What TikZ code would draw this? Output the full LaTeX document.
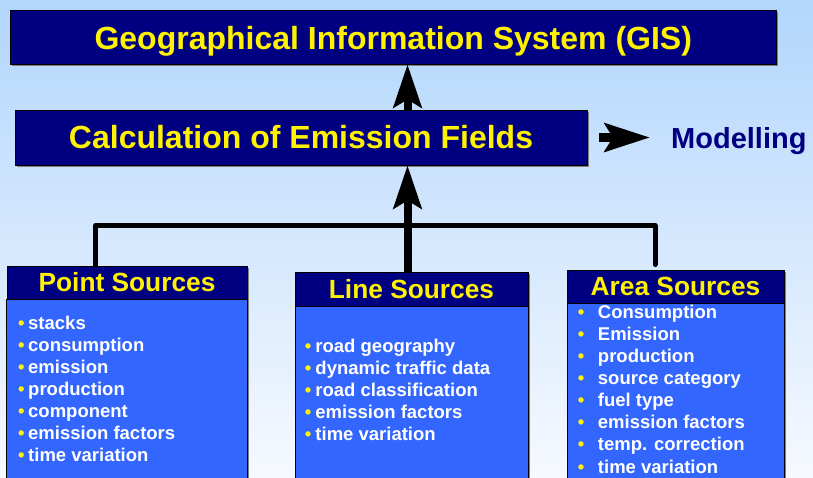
\documentclass[tikz,border=0pt]{standalone}
\usepackage{fontspec}
\setmainfont{Liberation Sans}
\usetikzlibrary{arrows.meta,shadows}
\definecolor{navybox}{RGB}{0,0,128}
\definecolor{bodyblue}{RGB}{51,102,255}
\definecolor{skytop}{RGB}{178,214,252}
\definecolor{skybottom}{RGB}{246,249,255}
\newcommand{\bul}{\textcolor{yellow}{•}}

\begin{document}
\begin{tikzpicture}[x=1pt,y=-1pt,
  boxshadow/.style={drop shadow={shadow xshift=1.5pt,shadow yshift=-1.5pt,fill=black!50,opacity=1}},
  titlebox/.style={draw=black,line width=0.8pt,fill=navybox,text=yellow,
    font=\bfseries\fontsize{32}{36}\selectfont,inner sep=0pt,boxshadow},
  headbox/.style={draw=black,line width=0.8pt,fill=navybox,text=yellow,
    font=\bfseries\fontsize{26.3}{30}\selectfont,inner sep=0pt,boxshadow},
  bodybox/.style={draw=black,line width=0.8pt,fill=bodyblue,inner sep=0pt,anchor=north,boxshadow},
  item/.style={text=white,font=\bfseries\fontsize{18.5}{22}\selectfont,inner sep=0pt,anchor=base west},
  uparrow/.style={line width=8pt,-{Stealth[length=43pt,width=28pt,inset=8pt]}},
  modarrow/.style={line width=9pt,-{Stealth[length=45pt,width=28pt,inset=8pt]}},
  bus/.style={line width=5pt,line join=round,line cap=round},
]
\useasboundingbox (0,0) rectangle (813,477);
\clip (0,0) rectangle (813,477);
\shade[top color=skytop,bottom color=skybottom] (0,0) rectangle (813,477);

% bus joining the three source groups
\coordinate (ptap) at (95.5,225.5);
\coordinate (atap) at (655,225.5);
\coordinate (aend) at (655,264.5);
\coordinate (spine) at (407.5,0);

% main boxes
\node[titlebox,minimum width=766.5pt,minimum height=54pt,text height=24pt,text depth=0pt] (gis) at (393.25,37)
  {Geographical Information System (GIS)};
\node[titlebox,minimum width=572pt,minimum height=55pt] (calc) at (301,137.5)
  {Calculation of Emission Fields};
\node[text=navybox,font=\bfseries\fontsize{29}{32}\selectfont,inner sep=0pt,anchor=base west]
  (model) at (671,148) {Modelling};

% source groups: header + body
\node[headbox,minimum width=240pt,minimum height=33pt] (pointhead) at (127,282.5) {Point Sources};
\node[bodybox,minimum width=241pt,minimum height=190pt] (pointbody) at (pointhead.south) {};
\node[headbox,minimum width=233pt,minimum height=34pt] (linehead) at (411.5,289) {Line Sources};
\node[bodybox,minimum width=233pt,minimum height=190pt] (linebody) at (linehead.south) {};
\node[headbox,minimum width=217pt,minimum height=33pt] (areahead) at (675.5,286.5) {Area Sources};
\node[bodybox,minimum width=217pt,minimum height=190pt] (areabody) at (areahead.south) {};

% item lists
\foreach \t [count=\i] in {stacks,consumption,emission,production,component,emission factors,time variation}
  \node[item] (pt\i) at (18,{329+22.15*(\i-1)}) {\makebox[10pt][l]{\bul}\t};
\foreach \t [count=\i] in {road geography,dynamic traffic data,road classification,emission factors,time variation}
  \node[item] (ln\i) at (304.75,{352+22*(\i-1)}) {\makebox[10.5pt][l]{\bul}\t};
\foreach \t [count=\i] in {Consumption,Emission,production,source category,fuel type,emission factors,temp. correction,time variation}
  \node[item] (ar\i) at (577.75,{318+22.15*(\i-1)}) {\makebox[20pt][l]{\bul}\t};

% connectors
\draw[bus] (pointhead.north -| ptap) -- (ptap) -- (atap) -- (aend);
\draw[uparrow] (linehead.north -| spine) -- (calc.south -| spine);
\draw[uparrow] (calc.north -| spine) -- (gis.south -| spine);
\path (model.west |- calc.east) coordinate (mref);
\draw[modarrow] ([xshift=12pt]calc.east) -- ([xshift=-21pt]mref);
\end{tikzpicture}
\end{document}
